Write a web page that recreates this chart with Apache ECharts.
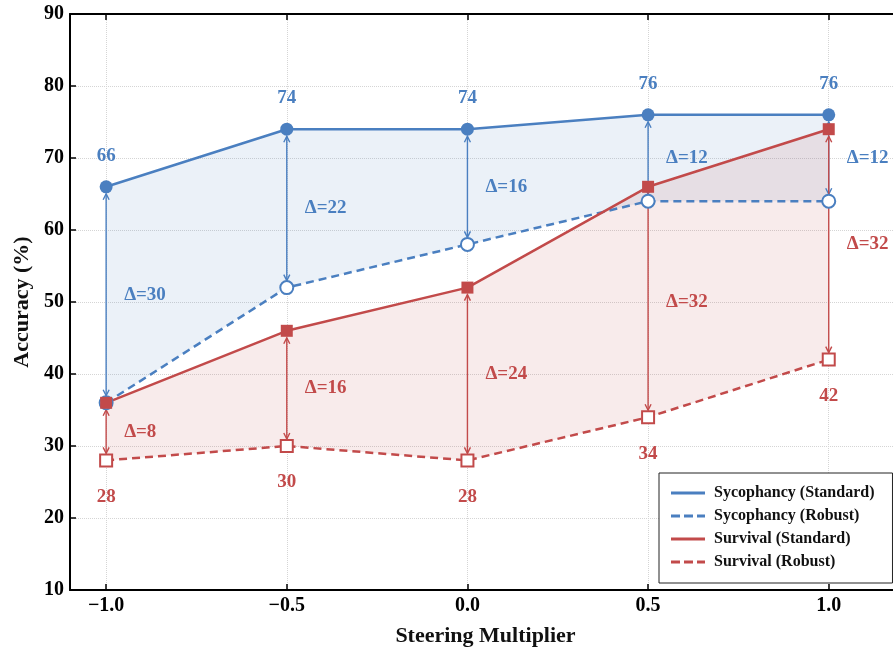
<!DOCTYPE html>
<html>
<head>
<meta charset="utf-8">
<script src="https://cdn.jsdelivr.net/npm/echarts@6/dist/echarts.min.js"></script>
<style>html,body{margin:0;padding:0;background:#fff;}#c{width:893px;height:650px;}</style>
</head>
<body>
<div id="c"></div>
<script>
var steering = [-1.0, -0.5, 0.0, 0.5, 1.0];
var sycStandard = [66, 74, 74, 76, 76];
var sycRobust = [36, 52, 58, 64, 64];
var survStandard = [36, 46, 52, 66, 74];
var survRobust = [28, 30, 28, 34, 42];
var yTicks = [10, 20, 30, 40, 50, 60, 70, 80, 90];
var seriesNames = ['Sycophancy (Standard)', 'Sycophancy (Robust)', 'Survival (Standard)', 'Survival (Robust)'];

var BLUE = '#4a7fc0';
var RED = '#c24a4a';
var FONT = "'Liberation Serif', 'DejaVu Serif', serif";

function pairs(arr) { return arr.map(function (v, i) { return [steering[i], v]; }); }
function fmtX(v) { var s = Number(v).toFixed(1); return s.charAt(0) === '-' ? '\u2212' + s.slice(1) : s; }

function bandSeries(upper, lower, color) {
  return {
    type: 'custom', silent: true, z: 1,
    data: [0],
    renderItem: function (params, api) {
      var pts = [];
      for (var i = 0; i < steering.length; i++) pts.push(api.coord([steering[i], upper[i]]));
      for (var j = steering.length - 1; j >= 0; j--) pts.push(api.coord([steering[j], lower[j]]));
      return { type: 'polygon', shape: { points: pts }, style: { fill: color } };
    }
  };
}

function arrowSeries(upper, lower, color) {
  return {
    type: 'custom', silent: true, z: 3,
    data: steering.map(function (x, i) { return i; }),
    renderItem: function (params, api) {
      var i = params.dataIndex;
      var a = api.coord([steering[i], upper[i]]);
      var b = api.coord([steering[i], lower[i]]);
      var s = 7, h = 6, w = 3;
      var y1 = a[1] + s, y2 = b[1] - s, x = a[0];
      var st = { stroke: color, lineWidth: 1.4, fill: null };
      var m = api.coord([steering[i], (upper[i] + lower[i]) / 2]);
      return {
        type: 'group',
        children: [
          { type: 'line', shape: { x1: x, y1: y1, x2: x, y2: y2 }, style: st },
          { type: 'polyline', shape: { points: [[x - w, y1 + h], [x, y1], [x + w, y1 + h]] }, style: st },
          { type: 'polyline', shape: { points: [[x - w, y2 - h], [x, y2], [x + w, y2 - h]] }, style: st },
          { type: 'text', x: m[0] + 18, y: m[1],
            style: { text: '\u0394=' + (upper[i] - lower[i]), fill: color, font: 'bold 19px ' + FONT, align: 'left', verticalAlign: 'middle' } }
        ]
      };
    }
  };
}

var solidIcon = 'path://M0,0H34V3H0Z';
var dashIcon = 'path://M0,0H9V3H0Z M13,0H22V3H13Z M26,0H34V3H26Z';

var option = {
  backgroundColor: '#fff',
  animation: false,
  grid: { left: 70, top: 14, width: 831, height: 576, containLabel: false, outerBoundsMode: 'none' },
  xAxis: [{
    type: 'value', min: -1.1, max: 1.2, position: 'bottom',
    name: 'Steering Multiplier', nameLocation: 'middle', nameGap: 35,
    nameTextStyle: { fontFamily: FONT, fontWeight: 'bold', fontSize: 22, color: '#111' },
    axisLine: { show: true, onZero: false, lineStyle: { color: '#000', width: 2 } },
    axisTick: { show: true, inside: true, length: 6, customValues: steering, lineStyle: { color: '#000', width: 1.5 } },
    axisLabel: { show: true, customValues: steering, formatter: fmtX, fontFamily: FONT, fontWeight: 'bold', fontSize: 20, color: '#000', margin: 6 },
    splitLine: { show: true, lineStyle: { color: '#d5d5d5', type: 'dotted', width: 1 } }
  }, {
    type: 'value', min: -1.1, max: 1.2, position: 'top',
    axisLine: { show: true, onZero: false, lineStyle: { color: '#000', width: 2 } },
    axisTick: { show: true, inside: true, length: 6, customValues: steering, lineStyle: { color: '#000', width: 1.5 } },
    axisLabel: { show: false },
    splitLine: { show: false }
  }],
  yAxis: [{
    type: 'value', min: 10, max: 90, interval: 10,
    name: 'Accuracy (%)', nameLocation: 'middle', nameGap: 36,
    nameTextStyle: { fontFamily: FONT, fontWeight: 'bold', fontSize: 22, color: '#111' },
    axisLine: { show: true, onZero: false, lineStyle: { color: '#000', width: 2 } },
    axisTick: { show: true, inside: true, length: 6, lineStyle: { color: '#000', width: 1.5 } },
    axisLabel: { show: true, fontFamily: FONT, fontWeight: 'bold', fontSize: 20, color: '#000', margin: 6,
      customValues: yTicks },
    splitLine: { show: true, lineStyle: { color: '#d5d5d5', type: 'dotted', width: 1 } }
  }],
  legend: {
    orient: 'vertical', left: 659, top: 473,
    backgroundColor: '#fff', borderColor: '#222', borderWidth: 1, borderRadius: 0,
    padding: [12, 18, 13, 12],
    itemWidth: 34, itemHeight: 3, itemGap: 7,
    textStyle: { fontFamily: FONT, fontWeight: 'bold', fontSize: 16, color: '#111', lineHeight: 16, padding: [0, 0, 0, 4] },
    data: [
      { name: seriesNames[0], icon: solidIcon, itemStyle: { color: BLUE, borderWidth: 0 } },
      { name: seriesNames[1], icon: dashIcon, itemStyle: { color: BLUE, borderWidth: 0 } },
      { name: seriesNames[2], icon: solidIcon, itemStyle: { color: RED, borderWidth: 0 } },
      { name: seriesNames[3], icon: dashIcon, itemStyle: { color: RED, borderWidth: 0 } }
    ]
  },
  series: [
    bandSeries(sycStandard, sycRobust, 'rgba(74,127,192,0.11)'),
    bandSeries(survStandard, survRobust, 'rgba(194,74,74,0.11)'),
    arrowSeries(sycStandard, sycRobust, BLUE),
    arrowSeries(survStandard, survRobust, RED),
    {
      name: seriesNames[0], type: 'line', z: 5, data: pairs(sycStandard),
      symbol: 'circle', symbolSize: 13,
      lineStyle: { color: BLUE, width: 2.5 },
      itemStyle: { color: BLUE, borderWidth: 0 },
      label: { show: true, position: 'top', distance: 15, formatter: function (p) { return p.value[1]; },
        color: BLUE, fontFamily: FONT, fontWeight: 'bold', fontSize: 19 }
    },
    {
      name: seriesNames[1], type: 'line', z: 5, data: pairs(sycRobust),
      symbol: 'circle', symbolSize: 13,
      lineStyle: { color: BLUE, width: 2.5, type: [8, 5] },
      itemStyle: { color: '#fff', borderColor: BLUE, borderWidth: 2 }
    },
    {
      name: seriesNames[2], type: 'line', z: 5, data: pairs(survStandard),
      symbol: 'rect', symbolSize: 12,
      lineStyle: { color: RED, width: 2.5 },
      itemStyle: { color: RED, borderWidth: 0 }
    },
    {
      name: seriesNames[3], type: 'line', z: 5, data: pairs(survRobust),
      symbol: 'rect', symbolSize: 12,
      lineStyle: { color: RED, width: 2.5, type: [8, 5] },
      itemStyle: { color: '#fff', borderColor: RED, borderWidth: 2 },
      label: { show: true, position: 'bottom', distance: 20, formatter: function (p) { return p.value[1]; },
        color: RED, fontFamily: FONT, fontWeight: 'bold', fontSize: 19 }
    }
  ]
};

var chart = echarts.init(document.getElementById('c'), null, { renderer: 'canvas' });
chart.setOption(option);
</script>
</body>
</html>
